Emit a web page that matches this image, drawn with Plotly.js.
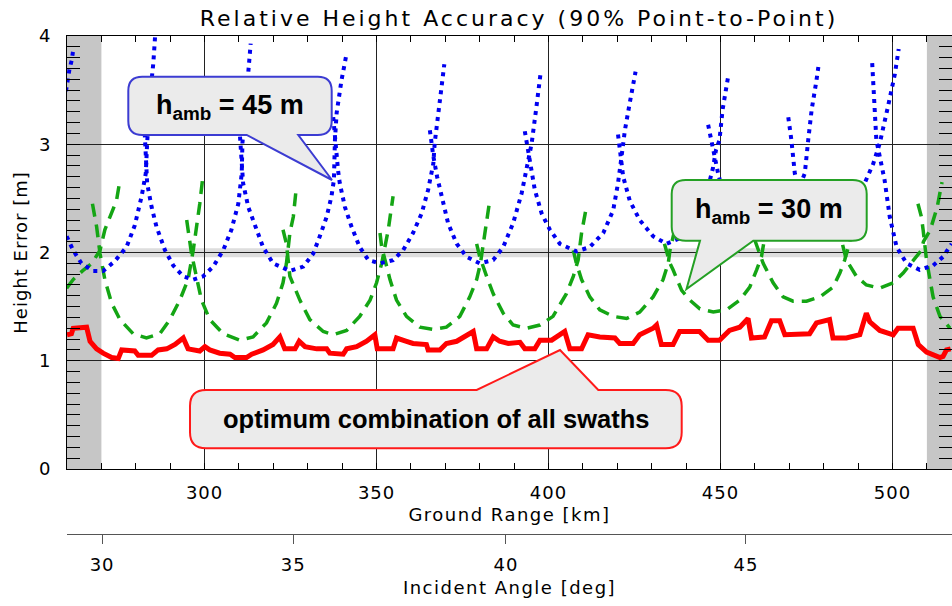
<!DOCTYPE html>
<html>
<head>
<meta charset="utf-8">
<script src="https://cdn.plot.ly/plotly-3.0.1.min.js"></script>
<style>
  html, body { margin: 0; padding: 0; background: #fff; }
  #chart { width: 952px; height: 606px; }
  .gtitle { letter-spacing: 3px; }
  .xtitle, .x2title { letter-spacing: 1.5px; }
  .ytitle { letter-spacing: 1px; }
  .xtick text, .x2tick text, .ytick text { letter-spacing: 1px; }
</style>
</head>
<body>
<div id="chart"></div>
<script>
// ---------------- data (ground range in km, height error in m) ----------------
const groundTicks = [300, 350, 400, 450, 500];
const heightTicks = [0, 1, 2, 3, 4];
const angleTickLabels = ['30', '35', '40', '45'];          // incident angle [deg]
const angleTickGroundKm = [270.2, 325.8, 387.6, 457.4];    // ground range of those angles

const excludedNear = [260, 270];
const excludedFar = [510, 517.3];
const requirement = [1.955, 2.04];

// h_amb = 45 m (one arc per swath, null separates the swaths)
const blueKm = [
  259.7,260.1,260.7,261.4,261.8, null,
  259.9,261.8,264.2,267.6,270.5,273.9,277.3,279.7,281.7,282.9,283.3,284.1,285.1,285.6, null,
  282.6,282.9,283.3,284.6,286.0,288.5,290.9,293.8,296.7,299.6,302.5,305.4,307.8,309.8,310.8,311.0,311.7,312.7,313.4, null,
  310.3,310.8,311.2,312.7,315.1,317.0,319.9,324.8,328.7,331.6,333.5,335.5,336.9,337.6,337.9,338.4,339.8,341.3, null,
  337.4,338.0,338.8,339.3,340.8,342.7,345.1,347.6,351.0,354.8,357.7,360.6,363.1,365.0,366.5,366.9,367.9,368.9,369.7, null,
  365.5,366.5,367.6,368.9,370.8,373.3,376.2,380.0,383.9,386.8,389.7,392.2,393.6,395.1,396.5,397.7, null,
  393.1,394.6,396.0,398.0,400.4,403.3,408.1,412.0,415.9,418.8,420.2,421.2,422.2,423.6,425.3, null,
  420.2,420.7,421.7,423.6,426.5,430.4,434.3,438.1,441.0,443.9,446.2,447.8,448.7,449.7,450.6,452.3, null,
  446.4,447.4,449.3,451.2,454.2,457.1,460.8,464.9,468.7,471.5,474.5,475.5,476.5,477.9,478.6, null,
  469.7,470.6,471.6,473.1,476.0,479.5,484.2,488.2,490.6,491.9,494.4,495.8,496.3,498.7,500.7,501.8, null,
  494.1,495.3,497.7,499.2,501.2,504.1,507.9,511.8,514.7,517.2
];
const blueErr = [
  3.49,3.59,3.69,3.78,3.87, null,
  2.15,2.02,1.90,1.83,1.83,1.92,2.05,2.25,2.52,2.73,3.01,3.44,3.75,3.99, null,
  3.10,2.83,2.64,2.42,2.24,2.02,1.88,1.78,1.75,1.78,1.87,2.02,2.21,2.45,2.73,3.01,3.29,3.69,3.93, null,
  3.07,2.76,2.64,2.42,2.21,2.05,1.90,1.83,1.87,1.99,2.15,2.33,2.52,2.67,3.04,3.29,3.59,3.84, null,
  3.25,3.00,2.76,2.64,2.42,2.24,2.05,1.93,1.90,1.93,2.02,2.18,2.36,2.58,2.82,3.01,3.29,3.59,3.74, null,
  3.13,2.89,2.70,2.52,2.27,2.08,1.96,1.90,1.93,2.05,2.27,2.55,2.76,3.01,3.35,3.66, null,
  3.12,2.82,2.58,2.36,2.21,2.08,2.01,2.05,2.18,2.39,2.64,2.88,3.13,3.38,3.67, null,
  3.09,2.95,2.70,2.48,2.30,2.15,2.08,2.13,2.22,2.40,2.58,2.78,2.95,3.04,3.32,3.64, null,
  3.18,3.01,2.73,2.50,2.30,2.20,2.15,2.18,2.30,2.50,2.73,3.04,3.32,3.59,3.75, null,
  3.25,3.04,2.73,2.50,2.35,2.26,2.22,2.35,2.50,2.64,2.82,2.95,3.01,3.35,3.65,3.88, null,
  3.75,3.04,2.67,2.33,2.05,1.90,1.84,1.88,1.96,2.08
];

// h_amb = 30 m
const greenKm = [
  259.9,261.8,264.5,267.2,269.6,271.0,272.5,274.4,275.4, null,
  267.4,268.6,269.6,271.0,273.0,275.4,279.2,283.1,287.0,289.9,292.8,295.2,296.7,297.7,298.6,299.6, null,
  294.8,296.2,297.2,299.1,301.5,305.4,310.3,314.1,318.0,320.9,322.8,323.8,324.8,325.8,326.7, null,
  322.8,323.8,324.8,327.7,330.6,334.5,337.4,341.3,345.1,348.1,350.0,351.5,353.4,353.9,354.8, null,
  351.0,351.5,353.9,355.8,358.7,362.6,366.5,370.3,374.2,377.1,379.1,380.2,381.5,382.0,382.9, null,
  379.1,380.0,382.0,383.9,386.8,389.7,393.6,397.5,401.3,405.2,407.2,408.6,409.6,411.0, null,
  407.2,408.1,409.6,412.0,414.9,418.8,422.7,426.5,430.4,433.3,434.8,435.3,436.7,438.1, null,
  433.7,435.3,436.2,438.7,441.1,444.0,447.9,451.7,455.6,458.5,460.5,461.9,462.9,463.8, null,
  459.9,460.9,462.4,465.3,468.2,471.1,475.0,478.9,482.7,484.7,486.1,487.6,488.5, null,
  485.5,486.6,489.5,492.4,496.3,500.2,503.1,506.0,508.4,509.0,511.0,513.0,514.4, null,
  507.4,508.4,508.9,509.9,510.9,511.8,512.8,513.8,515.2,516.7
];
const greenErr = [
  1.67,1.75,1.83,1.90,2.02,2.21,2.33,2.48,2.67, null,
  2.45,2.24,1.99,1.75,1.53,1.38,1.25,1.21,1.25,1.38,1.56,1.75,2.02,2.24,2.45,2.73, null,
  2.30,1.99,1.84,1.56,1.38,1.25,1.19,1.22,1.35,1.53,1.72,1.90,2.18,2.33,2.61, null,
  2.21,2.08,1.78,1.56,1.38,1.27,1.24,1.28,1.41,1.56,1.72,1.90,2.21,2.33,2.52, null,
  2.18,2.05,1.75,1.56,1.41,1.31,1.29,1.31,1.41,1.59,1.75,1.90,2.18,2.30,2.48, null,
  2.08,1.96,1.78,1.62,1.44,1.33,1.30,1.33,1.41,1.62,1.78,1.93,2.18,2.42, null,
  2.02,1.90,1.75,1.59,1.47,1.41,1.39,1.45,1.59,1.75,1.90,2.02,2.21,2.40, null,
  2.08,1.90,1.84,1.65,1.56,1.48,1.45,1.47,1.56,1.68,1.84,1.96,2.15,2.35, null,
  2.12,2.03,1.90,1.72,1.59,1.55,1.55,1.59,1.68,1.81,1.93,2.10,2.30, null,
  2.07,1.93,1.78,1.70,1.67,1.72,1.81,1.93,2.02,2.10,2.21,2.42,2.65, null,
  2.45,2.33,2.21,1.93,1.75,1.59,1.50,1.41,1.36,1.30
];

// optimum combination of all swaths
const redKm = [
  260.0,261.3,261.8,265.7,266.7,268.6,270.5,273.0,274.9,275.9,
  279.7,280.7,284.6,286.5,289.0,291.4,293.8,295.2,298.6,300.1,
  301.5,304.4,307.4,308.8,312.2,313.7,317.0,319.9,321.9,323.3,
  326.3,327.5,329.2,332.6,335.5,336.4,340.3,341.3,344.2,347.1,
  349.5,350.2,354.8,355.8,358.7,360.6,364.5,365.0,368.4,370.3,
  373.3,378.1,379.1,382.0,383.9,385.8,388.3,391.7,393.1,396.0,
  397.5,400.9,404.7,406.2,409.6,411.5,414.9,419.3,420.7,424.6,
  426.5,430.4,431.4,432.8,436.2,438.1,443.9,446.4,449.7,452.6,
  455.6,458.0,459.0,462.8,464.8,467.2,468.7,473.0,475.9,477.9,
  481.7,482.7,486.6,490.5,492.4,493.4,496.3,500.2,501.6,506.0,
  507.5,509.9,513.8,514.7,515.7,516.9
];
const redErr = [
  1.24,1.25,1.30,1.31,1.18,1.11,1.07,1.03,1.02,1.10,
  1.09,1.05,1.05,1.10,1.11,1.15,1.21,1.11,1.09,1.13,
  1.10,1.07,1.06,1.03,1.03,1.06,1.10,1.15,1.22,1.11,
  1.11,1.18,1.13,1.11,1.11,1.07,1.06,1.11,1.13,1.18,
  1.24,1.11,1.11,1.21,1.18,1.16,1.15,1.10,1.10,1.16,
  1.18,1.27,1.11,1.11,1.22,1.18,1.16,1.17,1.11,1.11,
  1.19,1.19,1.27,1.11,1.11,1.24,1.22,1.21,1.16,1.16,
  1.24,1.30,1.33,1.15,1.15,1.27,1.27,1.19,1.19,1.28,
  1.31,1.39,1.21,1.22,1.37,1.37,1.24,1.24,1.25,1.35,
  1.38,1.21,1.21,1.24,1.44,1.36,1.28,1.24,1.30,1.30,
  1.15,1.08,1.03,1.04,1.10,1.11
];

// ---------------- layout helpers ----------------
const W = 952, H = 606;
const PL = 67, PR = 952, PT = 36, PB = 469, AX2 = 534;
const XR = [260, 517.3], YR = [0, 4];
function kx(px) { return XR[0] + (px - PL) * (XR[1] - XR[0]) / (PR - PL); }
function hy(py) { return YR[0] + (PB - py) * (YR[1] - YR[0]) / (PB - PT); }
function P(px, py) { return kx(px).toFixed(3) + ',' + hy(py).toFixed(4); }
function callout(l, t, r, b, rad, tail) {
  let d = 'M' + P(l + rad, t);
  if (tail.side === 'top') d += ' L' + P(tail.a, t) + ' L' + P(tail.tx, tail.ty) + ' L' + P(tail.c, t);
  d += ' L' + P(r - rad, t) + ' Q' + P(r, t) + ' ' + P(r, t + rad);
  d += ' L' + P(r, b - rad) + ' Q' + P(r, b) + ' ' + P(r - rad, b);
  if (tail.side === 'bottom') d += ' L' + P(tail.c, b) + ' L' + P(tail.tx, tail.ty) + ' L' + P(tail.a, b);
  d += ' L' + P(l + rad, b) + ' Q' + P(l, b) + ' ' + P(l, b - rad);
  d += ' L' + P(l, t + rad) + ' Q' + P(l, t) + ' ' + P(l + rad, t) + ' Z';
  return d;
}

const axFont = { family: 'DejaVu Sans, sans-serif', size: 18, color: '#000' };
const boxFont = { family: 'Liberation Sans, Arial, sans-serif', size: 27, color: '#000' };

const traces = [
  { x: greenKm, y: greenErr, type: 'scatter', mode: 'lines', connectgaps: false,
    line: { color: '#14a514', width: 3.5, dash: '13px,8px' }, hoverinfo: 'skip', showlegend: false },
  { x: blueKm, y: blueErr, type: 'scatter', mode: 'lines', connectgaps: false,
    line: { color: '#0000f0', width: 4, dash: '4px,5px' }, hoverinfo: 'skip', showlegend: false },
  { x: redKm, y: redErr, type: 'scatter', mode: 'lines',
    line: { color: '#ff0000', width: 5 }, hoverinfo: 'skip', showlegend: false },
  { x: angleTickGroundKm, y: angleTickGroundKm.map(() => null), xaxis: 'x2', yaxis: 'y',
    type: 'scatter', mode: 'lines', hoverinfo: 'skip', showlegend: false }
];

const layout = {
  width: W, height: H,
  margin: { l: PL, r: W - PR, t: PT, b: H - AX2, pad: 0 },
  paper_bgcolor: '#fff', plot_bgcolor: '#fff',
  showlegend: false,
  title: { text: 'Relative Height Accuracy (90% Point-to-Point)',
    font: { family: 'DejaVu Sans, sans-serif', size: 22, color: '#000' },
    xref: 'container', yref: 'container', x: 519 / W, y: 1 - 18 / H, xanchor: 'center', yanchor: 'middle' },
  xaxis: {
    range: XR, anchor: 'y', domain: [0, 1],
    tickmode: 'array', tickvals: groundTicks, ticktext: groundTicks.map(String),
    ticks: 'inside', ticklen: 6, tickcolor: '#000', tickwidth: 1,
    minor: { tickmode: 'linear', tick0: 0, dtick: 10, ticks: 'inside', ticklen: 6, tickcolor: '#000', showgrid: false },
    showline: true, linecolor: '#000', linewidth: 1, mirror: 'ticks',
    showgrid: true, gridcolor: '#222', gridwidth: 1, zeroline: false,
    tickfont: axFont, ticklabelstandoff: 7,
    title: { text: 'Ground Range [km]', font: axFont, standoff: 6 }
  },
  xaxis2: {
    range: XR, overlaying: 'x', anchor: 'free', position: 0, side: 'bottom',
    tickmode: 'array', tickvals: angleTickGroundKm, ticktext: angleTickLabels,
    ticks: 'outside', ticklen: 9, tickcolor: '#555', tickwidth: 1,
    showline: true, linecolor: '#555', linewidth: 1, showgrid: false, zeroline: false,
    tickfont: axFont, ticklabelstandoff: 5,
    title: { text: 'Incident Angle [deg]', font: axFont, standoff: 7 }
  },
  yaxis: {
    range: YR, domain: [(AX2 - PB) / (AX2 - PT), 1],
    tickmode: 'linear', tick0: heightTicks[0], dtick: heightTicks[1] - heightTicks[0],
    ticks: 'inside', ticklen: 13, tickcolor: '#000', tickwidth: 1,
    minor: { dtick: 0.1, ticks: 'inside', ticklen: 13, tickcolor: '#000', tickwidth: 1, showgrid: false },
    showline: true, linecolor: '#000', linewidth: 1, mirror: 'ticks',
    showgrid: true, gridcolor: '#222', gridwidth: 1, zeroline: false,
    tickfont: axFont, ticklabelstandoff: 11,
    title: { text: 'Height Error [m]', font: { family: 'DejaVu Sans, sans-serif', size: 18, color: '#000' }, standoff: 6 }
  },
  shapes: [
    { type: 'rect', xref: 'x', yref: 'y', x0: excludedNear[0], x1: excludedNear[1], y0: YR[0], y1: YR[1],
      fillcolor: '#c6c6c6', line: { width: 0 }, layer: 'below' },
    { type: 'rect', xref: 'x', yref: 'y', x0: excludedFar[0], x1: excludedFar[1], y0: YR[0], y1: YR[1],
      fillcolor: '#c6c6c6', line: { width: 0 }, layer: 'below' },
    { type: 'rect', xref: 'x', yref: 'y', x0: excludedNear[1], x1: excludedFar[0], y0: requirement[0], y1: requirement[1],
      fillcolor: '#dddddd', line: { width: 0 }, layer: 'below' },
    { type: 'path', xref: 'x', yref: 'y', layer: 'above',
      path: callout(128.3, 76.7, 331.7, 135, 14, { side: 'bottom', a: 246.7, c: 298.3, tx: 332, ty: 180 }),
      fillcolor: '#ebebeb', line: { color: '#3c3cd2', width: 2 } },
    { type: 'path', xref: 'x', yref: 'y', layer: 'above',
      path: callout(671.7, 180, 866.7, 240.7, 14, { side: 'bottom', a: 700, c: 753.3, tx: 686.5, ty: 289 }),
      fillcolor: '#ebebeb', line: { color: '#24a024', width: 2 } },
    { type: 'path', xref: 'x', yref: 'y', layer: 'above',
      path: callout(190, 390, 681.7, 448.3, 16, { side: 'top', a: 476.7, c: 598.3, tx: 560, ty: 350 }),
      fillcolor: '#ebebeb', line: { color: '#ff1a1a', width: 2 } }
  ],
  annotations: [
    { xref: 'x', yref: 'y', x: kx(230), y: hy(107), text: '<b>h<sub>amb</sub> = 45 m</b>', showarrow: false,
      xanchor: 'center', yanchor: 'middle', font: boxFont },
    { xref: 'x', yref: 'y', x: kx(769), y: hy(211), text: '<b>h<sub>amb</sub> = 30 m</b>', showarrow: false,
      xanchor: 'center', yanchor: 'middle', font: boxFont },
    { xref: 'x', yref: 'y', x: kx(436), y: hy(419), text: '<b>optimum combination of all swaths</b>', showarrow: false,
      xanchor: 'center', yanchor: 'middle', font: { family: 'Liberation Sans, Arial, sans-serif', size: 25.5, color: '#000' } }
  ]
};

Plotly.newPlot('chart', traces, layout, { displayModeBar: false, staticPlot: true });
</script>
</body>
</html>
